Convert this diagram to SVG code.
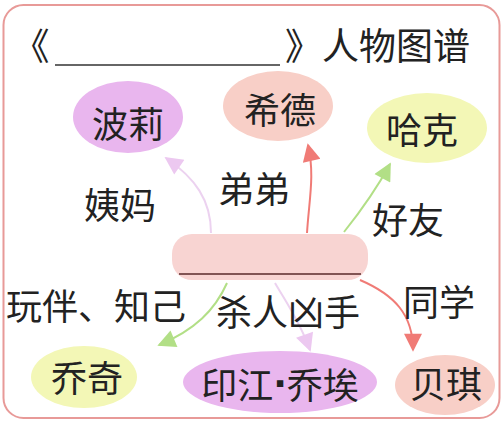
<svg xmlns="http://www.w3.org/2000/svg" width="504" height="423" viewBox="0 0 504 423">
<defs>
<style>
text{font-family:"Noto Sans CJK SC","Noto Sans CJK JP",sans-serif;fill:#222;dominant-baseline:central;text-anchor:middle}
.node text{font-size:36px}
.lbl{font-size:36px}
.dot{font-family:"DejaVu Sans",sans-serif}
.purple{fill:#e9b6ee}
.pink{fill:#f8cfc7}
.yellow{fill:#f3f7b6}
.conn path{fill:none;stroke-width:2}
</style>
<marker id="mP" viewBox="0 0 10 10" refX="9" refY="5" markerWidth="20" markerHeight="18" markerUnits="userSpaceOnUse" orient="auto"><path d="M0,0L10,5L0,10z" fill="#ecc8f0"/></marker>
<marker id="mR" viewBox="0 0 10 10" refX="9" refY="5" markerWidth="20" markerHeight="18" markerUnits="userSpaceOnUse" orient="auto"><path d="M0,0L10,5L0,10z" fill="#f07b76"/></marker>
<marker id="mG" viewBox="0 0 10 10" refX="9" refY="5" markerWidth="20" markerHeight="18" markerUnits="userSpaceOnUse" orient="auto"><path d="M0,0L10,5L0,10z" fill="#b2df86"/></marker>
</defs>
<rect x="3.5" y="5" width="496" height="413" rx="20" fill="#fff" stroke="#e89a98" stroke-width="2"/>
<g id="title">
<text x="31" y="44" style="font-size:37px">《</text>
<line x1="55" y1="65" x2="280" y2="65" stroke="#333" stroke-width="1.6"/>
<text x="285" y="44" style="font-size:37px;text-anchor:start">》人物图谱</text>
</g>
<g class="conn" id="connectors">
<path d="M211,233 C211,200 195,178 166,158" stroke="#ecd2f0" marker-end="url(#mP)"/>
<path d="M307,233 C309,200 315,175 308,145" stroke="#f07b76" marker-end="url(#mR)"/>
<path d="M344,232 C360,212 376,190 390,164" stroke="#b2df86" marker-end="url(#mG)"/>
<path d="M227,283 C215,310 195,330 159,345" stroke="#b2df86" marker-end="url(#mG)"/>
<path d="M275,283 C286,302 300,322 310,350" stroke="#ecd2f0" marker-end="url(#mP)"/>
<path d="M360,280 C395,295 413,315 413,350" stroke="#f07b76" marker-end="url(#mR)"/>
</g>
<g id="labels">
<text class="lbl" x="120" y="203">姨妈</text>
<text class="lbl" x="254" y="187">弟弟</text>
<text class="lbl" x="408" y="218">好友</text>
<text class="lbl" x="96" y="304">玩伴、知己</text>
<text class="lbl" x="288" y="310">杀人凶手</text>
<text class="lbl" x="439" y="300">同学</text>
</g>
<g class="node" id="center">
<rect x="172" y="234" width="196" height="46" rx="20" fill="#f8d4d2"/>
<line x1="179" y1="274" x2="361" y2="274" stroke="#5a2a2a" stroke-width="1.6"/>
</g>
<g class="node" id="boli"><ellipse class="purple" cx="128" cy="117" rx="55" ry="36"/><text x="128" y="122">波莉</text></g>
<g class="node" id="xide"><ellipse class="pink" cx="278" cy="106" rx="55" ry="35"/><text x="280" y="108">希德</text></g>
<g class="node" id="hake"><ellipse class="yellow" cx="427" cy="128" rx="60" ry="35"/><text x="422" y="128">哈克</text></g>
<g class="node" id="qiaoqi"><ellipse class="yellow" cx="84" cy="377" rx="53" ry="31"/><text x="87" y="376">乔奇</text></g>
<g class="node" id="yinjiang"><ellipse class="purple" cx="280" cy="382" rx="97" ry="31"/><text x="280" y="383">印江<tspan class="dot" font-weight="bold">·</tspan>乔埃</text></g>
<g class="node" id="beiqi"><ellipse class="pink" cx="445" cy="385" rx="50" ry="30"/><text x="446" y="382">贝琪</text></g>
</svg>
